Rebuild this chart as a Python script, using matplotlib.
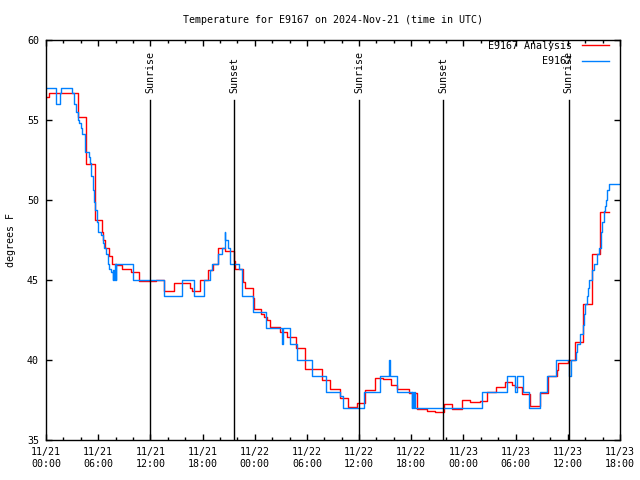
import matplotlib
matplotlib.use('Agg')
import matplotlib.pyplot as plt

# hours since 11/21 00:00 UTC, step starts; last point closes the final step
analysis_t = [0.0, 0.38, 0.70, 3.64, 4.55, 5.60, 6.40, 6.55, 6.80, 7.30, 7.55, 8.05, 8.75, 9.75,
              10.70, 12.60, 13.55, 14.70, 16.55, 16.75, 17.75, 18.66, 19.24, 19.81, 20.58, 21.65,
              21.73, 22.62, 22.90, 23.77, 23.92, 24.69, 25.07, 25.37, 25.75, 26.90, 27.75, 28.75,
              29.80, 31.70, 32.66, 33.80, 34.76, 35.80, 36.70, 37.80, 38.70, 39.63, 40.39, 41.77,
              42.69, 43.77, 44.72, 45.72, 46.70, 47.85, 48.70, 49.90, 50.70, 51.70, 52.77, 53.54,
              53.90, 54.72, 55.65, 56.85, 57.70, 58.70, 58.90, 60.00, 60.86, 61.80, 62.78, 63.75,
              64.70]
analysis_v = [56.46, 56.67, 56.70, 55.17, 52.25, 48.75, 48.0, 47.5, 47.0, 46.5, 46.0, 45.94, 45.7, 45.5,
              44.94, 45.0, 44.3, 44.8, 44.5, 44.3, 45.0, 45.6, 46.0, 47.0, 46.8, 46.2,
              45.7, 44.9, 44.5, 43.9, 43.2, 42.9, 42.7, 42.5, 42.04, 41.77, 41.46, 40.73,
              39.42, 38.75, 38.2, 37.6, 37.04, 37.3, 38.1, 38.9, 38.8, 38.44, 38.2, 37.92,
              36.94, 36.83, 36.73, 37.25, 36.94, 37.5, 37.35, 37.46, 38.0, 38.3, 38.6, 38.45,
              38.3, 37.9, 37.1, 37.96, 39.0, 39.4, 39.8, 40.0, 41.1, 43.5, 46.6, 49.27,
              49.27]

obs_t = [0.0, 1.15, 1.60, 1.76, 3.00, 3.22, 3.45, 3.64, 3.83, 3.99, 4.14, 4.48, 4.90, 5.06, 5.21,
         5.37, 5.52, 5.67, 5.83, 5.98, 6.32, 6.52, 6.71, 6.90, 7.09, 7.28, 7.47, 7.66, 7.72, 7.85,
         7.92, 8.02, 8.10, 9.97, 13.55, 15.65, 17.03, 18.22, 18.85, 19.12, 19.81, 20.20, 20.56,
         20.62, 20.90, 21.10, 21.16, 22.23, 22.55, 23.80, 25.30, 27.15, 27.25, 28.02, 28.85,
         30.58, 32.20, 33.81, 34.10, 36.55, 38.45, 39.45, 39.52, 40.35, 42.05, 42.12, 42.20,
         42.30, 42.40, 50.09, 53.04, 53.90, 54.20, 54.90, 55.55, 56.85, 57.62, 58.64, 60.12,
         60.40, 60.90, 61.09, 61.45, 61.70, 61.86, 61.97, 62.17, 62.28, 62.47, 62.80, 63.01,
         63.40, 63.58, 63.76, 63.95, 64.18, 64.27, 64.39, 64.52, 64.68, 66.0]
obs_v = [57, 56, 56.7, 57, 56.7, 56, 55.5, 55.0, 54.8, 54.5, 54.1, 53.0, 52.7, 52.3, 51.5,
         50.6, 49.9, 49.4, 48.6, 48.0, 47.8, 47.3, 47.0, 46.6, 46.0, 45.7, 45.5, 45.0, 45.6, 45.0,
         46.0, 45.0, 46.0, 45.0, 44.0, 45.0, 44.0, 45.0, 45.6, 46.0, 46.6, 47.0, 48.0,
         47.5, 47.0, 46.8, 46.0, 45.7, 44.0, 43.0, 42.0, 41.0, 42.0, 41.0, 40.0,
         39.0, 38.0, 37.75, 37.0, 38.0, 39.0, 40.0, 39.0, 38.0, 37.0, 38.0, 37.0,
         38.0, 37.0, 38.0, 39.0, 38.0, 39.0, 38.0, 37.0, 38.0, 39.0, 40.0, 39.0,
         40.0, 40.5, 41.0, 41.6, 42.2, 42.9, 43.5, 44.0, 44.5, 45.0, 45.6, 46.0,
         46.6, 47.0, 48.0, 48.6, 49.3, 49.6, 50.0, 50.6, 51.0, 51.0]

sun_t = [11.98, 21.62, 36.01, 45.68, 60.09]
sun_lbl = ['Sunrise', 'Sunset', 'Sunrise', 'Sunset', 'Sunrise']

xtick_pos = [0, 6, 12, 18, 24, 30, 36, 42, 48, 54, 60, 66]
xtick_lbl = ['11/21\n00:00', '11/21\n06:00', '11/21\n12:00', '11/21\n18:00',
             '11/22\n00:00', '11/22\n06:00', '11/22\n12:00', '11/22\n18:00',
             '11/23\n00:00', '11/23\n06:00', '11/23\n12:00', '11/23\n18:00']
ytick_pos = [35, 40, 45, 50, 55, 60]

plt.rcParams['font.family'] = 'DejaVu Sans Mono'
plt.rcParams['font.size'] = 7.2

fig = plt.figure(figsize=(6.4, 4.8), dpi=100)
ax = fig.add_axes([46/640, 40/480, 574/640, 400/480])

ax.plot(analysis_t, analysis_v, drawstyle='steps-post', color='#ff0000', lw=1.0, label='E9167 Analysis')
ax.plot(obs_t, obs_v, drawstyle='steps-post', color='#0080ff', lw=1.0, label='E9167')

for t, s in zip(sun_t, sun_lbl):
    ax.plot([t, t], [35, 56.25], color='black', lw=1.0, zorder=5)
    ax.text(t, 56.7, s, rotation=90, ha='center', va='bottom', zorder=6)

ax.set_xlim(0, 66)
ax.set_ylim(35, 60)
ax.set_xticks(xtick_pos)
ax.set_xticklabels(xtick_lbl)
ax.set_xticks(range(0, 67, 2), minor=True)
ax.set_yticks(ytick_pos)
ax.tick_params(which='both', direction='in', top=True, right=True, width=1.0)
ax.tick_params(which='major', length=4, pad=5)
ax.tick_params(which='minor', length=2)
for sp in ax.spines.values():
    sp.set_linewidth(1.0)

leg = ax.legend(loc='upper right', bbox_to_anchor=(1 - 11/574, 1 - 1/400), frameon=False,
                markerfirst=False, handlelength=2.7, handletextpad=1.0, borderpad=0,
                borderaxespad=0, labelspacing=0.55)

fig.text(333/640, 1 - 20/480, 'Temperature for E9167 on 2024-Nov-21 (time in UTC)', ha='center', va='center')
fig.text(11/640, 0.5, 'degrees F', rotation=90, ha='center', va='center')

fig.savefig('out.png', dpi=100)
